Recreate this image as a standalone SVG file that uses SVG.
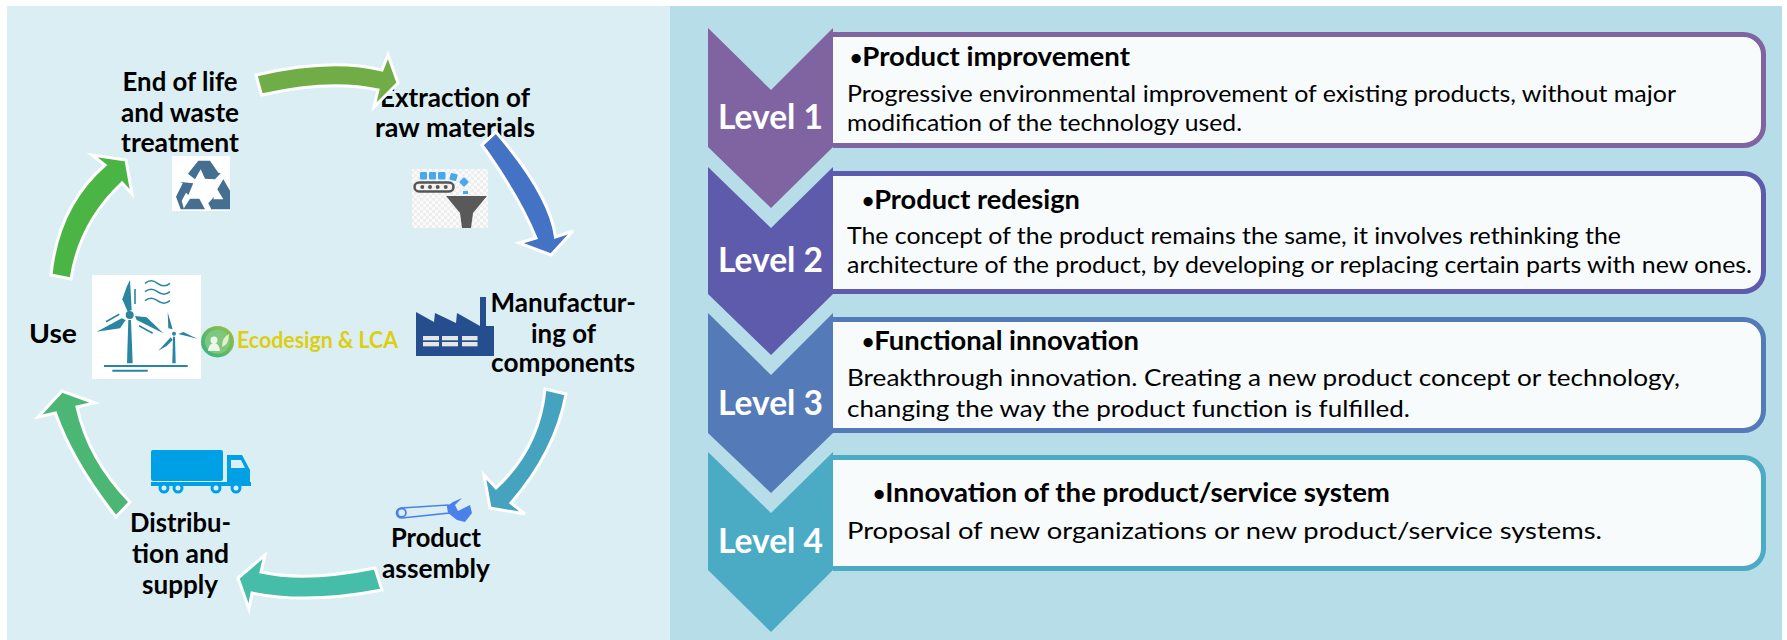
<svg xmlns="http://www.w3.org/2000/svg" width="1787" height="640" viewBox="0 0 1787 640">
<style>
text{font-family:Lato,"Liberation Sans",sans-serif;fill:#000}
.lb{font-weight:700;font-size:26px}
.t{font-weight:700;font-size:26px}
.bu{font-size:20px}
.b{font-size:24px}
.lv{font-weight:700;font-size:35px;fill:#fff}
.box{fill:#f7fbfc;stroke-width:5}
.arr{stroke:#fff;stroke-width:3}
</style>
<defs>
<pattern id="chk" width="6" height="6" patternUnits="userSpaceOnUse"><rect width="6" height="6" fill="#fafafa"/><rect width="3" height="3" fill="#eeeeee"/><rect x="3" y="3" width="3" height="3" fill="#eeeeee"/></pattern>
<linearGradient id="eco" x1="0" y1="1" x2="1" y2="0"><stop offset="0" stop-color="#2fb38c"/><stop offset="1" stop-color="#9cc03c"/></linearGradient>
</defs>
<rect x="7" y="6" width="663" height="634" fill="#dbeef4"/>
<rect x="670" y="6" width="1112" height="634" fill="#b7dde8"/>

<g id="node-end-of-life">
<text class="lb" x="122.6" y="91" textLength="115" lengthAdjust="spacingAndGlyphs">End of life</text>
<text class="lb" x="121" y="122" textLength="118" lengthAdjust="spacingAndGlyphs">and waste</text>
<text class="lb" x="121" y="152" textLength="118" lengthAdjust="spacingAndGlyphs">treatment</text>
<rect x="172" y="156" width="58" height="55" fill="#fff"/>
<g fill="#446f91">
<polygon points="188.3,173.3 198.3,160.7 210,160.7 218.3,172.7 220.7,173.3 215,179.3 205,178.7 200.7,169.3 195,179.3 188.3,174"/>
<polygon points="176,196.7 182.7,183.3 180.7,182 193.3,183.3 188.3,195 186,192.7 181.7,200.7 184,209.3 180.7,209.3"/>
<polygon points="183.3,209.3 190,198.7 199.3,198.7 205,209.3"/>
<polygon points="208.3,203.3 214,196.7 213.3,199.3 223.3,199.3 217.3,189.3 223.3,179.3 230,190.7 230,209.3 211.7,209.3 211.7,210"/>
</g>
</g>

<g id="node-extraction">
<text class="lb" x="380" y="107" textLength="150" lengthAdjust="spacingAndGlyphs">Extraction of</text>
<text class="lb" x="375" y="137" textLength="160" lengthAdjust="spacingAndGlyphs">raw materials</text>
<rect x="412" y="169" width="76" height="59" fill="url(#chk)"/>
<g fill="#45a9ee">
<rect x="420" y="172" width="7" height="7.500" rx="1"/><rect x="429" y="172" width="7" height="7.500" rx="1"/><rect x="438" y="172" width="7.500" height="7.500" rx="1"/>
<rect x="450" y="173.500" width="7" height="7" rx="1" transform="rotate(15 453.500 177)"/>
<rect x="460.500" y="178.500" width="7" height="7" rx="1" transform="rotate(45 464 182)"/>
<rect x="463" y="191" width="5" height="3"/>
</g>
<rect x="414.500" y="182.500" width="39" height="9" rx="4.500" fill="none" stroke="#555" stroke-width="2.500"/>
<g fill="#555"><circle cx="422.300" cy="187" r="2"/><circle cx="430" cy="187" r="2"/><circle cx="437.700" cy="187" r="2"/><circle cx="445.700" cy="187" r="2"/></g>
<polygon points="446,196 487,196 473,213 471,228 462,228 460,213" fill="#595959"/>
</g>

<g id="node-manufacturing">
<text class="lb" x="490.600" y="312" textLength="145.400" lengthAdjust="spacingAndGlyphs">Manufactur-</text>
<text class="lb" x="531" y="343" textLength="65" lengthAdjust="spacingAndGlyphs">ing of</text>
<text class="lb" x="491" y="372" textLength="144" lengthAdjust="spacingAndGlyphs">components</text>
<polygon points="416,312 434,322 435,313 456,323 457,313 480,326 480,297 486,297 486,326 494,326 494,356 416,356" fill="#254e8e"/>
<g fill="#e6e6e6"><rect x="423" y="336" width="16" height="4.300"/><rect x="423" y="342" width="16" height="4.300"/><rect x="442" y="336" width="16" height="4.300"/><rect x="442" y="342" width="16" height="4.300"/><rect x="462" y="336" width="15.500" height="4.300"/><rect x="462" y="342" width="15.500" height="4.300"/></g>
</g>

<g id="node-assembly">
<text class="lb" x="391" y="547" textLength="90" lengthAdjust="spacingAndGlyphs">Product</text>
<text class="lb" x="382" y="578" textLength="108" lengthAdjust="spacingAndGlyphs">assembly</text>
<path d="M401,508 L448,505 L449,513 L402,518 A5,5 0 0 1 401,508 Z" fill="#dbeef4" stroke="#4a80ec" stroke-width="1.600"/>
<circle cx="401.700" cy="512.700" r="4.200" fill="#dbeef4" stroke="#4a80ec" stroke-width="1.800"/>
<polygon points="447,506 453,502 462,498 455,505 458,511 470,505 472,513 465,522 457,520 448,513" fill="#4a80ec"/>
</g>

<g id="node-distribution">
<text class="lb" x="130" y="532" textLength="101" lengthAdjust="spacingAndGlyphs">Distribu-</text>
<text class="lb" x="132" y="563" textLength="97" lengthAdjust="spacingAndGlyphs">tion and</text>
<text class="lb" x="142" y="594" textLength="76" lengthAdjust="spacingAndGlyphs">supply</text>
<g fill="#00a0e6">
<rect x="151" y="450" width="72" height="31" rx="2"/>
<polygon points="227,455 242,455 250,470 250,482 227,482"/>
<rect x="151" y="482" width="100" height="4"/>
</g>
<polygon points="231,460 241,460 245,468 231,468" fill="#dbeef4"/>
<g fill="#dbeef4" stroke="#00a0e6" stroke-width="3"><circle cx="164" cy="488" r="4"/><circle cx="178" cy="488" r="4"/><circle cx="216" cy="488" r="4"/><circle cx="236" cy="488" r="4"/></g>
</g>

<g id="node-use">
<text class="lb" x="29" y="343" textLength="48" lengthAdjust="spacingAndGlyphs">Use</text>
<rect x="92" y="275" width="109" height="104" fill="#fff"/>
<g fill="#2a85a0">
<circle cx="129.700" cy="315" r="4"/>
<polygon points="128.300,320 131,320 132.700,363.300 127,363.300"/>
<polygon points="130,280 131.700,310 127.700,311.700 122.300,299.300 126.700,286.700"/>
<polygon points="96.700,331.700 121.700,318.300 125.700,320 120,328.300"/>
<polygon points="135,316 146.700,317.300 163.300,333.300 136.700,320"/>
<circle cx="174" cy="333.700" r="2"/>
<polygon points="173,336.700 175,336.700 175.700,363.300 172.300,363.300"/>
<polygon points="167.700,312.300 172.700,329.300 168.300,328.300"/>
<polygon points="178.300,334 183.300,332 197.300,338.700"/>
<polygon points="158.300,350.700 170.700,337.300 172.700,340 166.700,346"/>
</g>
<g fill="none" stroke="#2a85a0">
<path d="M135,289V304M106,321.700L119.300,314.300M139,325.700L152.700,333.300" stroke-width="1.600"/>
<path d="M145,283.300q6,-5 12.500,0t12.500,0M145,291.700q6,-5 12.500,0t12.500,0M145,300.700q6,-5 12.500,0t12.500,0" stroke-width="1.600"/>
<path d="M104,366H187.700M112.300,370.700H147.700" stroke-width="2"/>
</g>
</g>

<g id="node-ecodesign">
<ellipse cx="217.500" cy="341.700" rx="16.500" ry="15.700" fill="url(#eco)"/>
<ellipse cx="217.500" cy="341.700" rx="12.500" ry="12" fill="#7fc77f"/>
<circle cx="214" cy="340" r="3.500" fill="#fff" opacity=".85"/><path d="M208,351q1,-8 6,-8t6,8Z" fill="#fff" opacity=".85"/>
<path d="M222,347q0,-10 7,-13q0,11 -7,13Z" fill="#e4f0c8"/>
<text x="237" y="348" font-size="23" font-weight="700" style="fill:#dccf10" textLength="161" lengthAdjust="spacingAndGlyphs">Ecodesign &amp; LCA</text>
</g>

<g id="connectors">
<path class="arr" fill="#70ad47" d="M256,75Q331,57.500 382,70L388,55L398,83L374,107L378,90Q330,79.500 261.500,95Z"/>
<path class="arr" fill="#4472c4" d="M496,132Q550,195 555.500,237L573,231L551,255L519,243L536,238Q519,196.500 482,145Z"/>
<path class="arr" fill="#46a3c0" d="M566,394Q555.500,451.500 511,503L525,514L490,508L484,475L496,488Q539.500,447.500 545,389Z"/>
<path class="arr" fill="#45bda8" d="M375,568Q306,582 261,572L265,555L238,578L249,609L252,593Q307,604.500 382,590Z"/>
<path class="arr" fill="#4cb774" d="M116,517Q72,461 55.500,413L38,417L62,391L95,403L77,407Q88.500,459.500 130,502Z"/>
<path class="arr" fill="#4ab545" d="M51,275Q58,206 105,165L92,155L126,160L132,194L122,183Q79.500,223 71,279Z"/>
</g>

<g id="level-4">
<polygon points="708,452 771,513 833,452 833,570 771,632 708,570" fill="#4babc5"/>
<path class="box" stroke="#4babc5" d="M833,457.500H1743.500a20,20 0 0 1 20,20V548.500a20,20 0 0 1 -20,20H833"/>
<text class="lv" x="718" y="553" textLength="105" lengthAdjust="spacingAndGlyphs">Level 4</text>
<text class="t" x="873" y="502" textLength="517" lengthAdjust="spacingAndGlyphs"><tspan class="bu" dy="-1">•</tspan><tspan dy="1">Innovation of the product/service system</tspan></text>
<text class="b" x="847" y="539" textLength="755" lengthAdjust="spacingAndGlyphs">Proposal of new organizations or new product/service systems.</text>
</g>
<g id="level-3">
<polygon points="708,313 771,375 833,313 833,433 771,493 708,433" fill="#547ab8"/>
<path class="box" stroke="#547ab8" d="M833,319.500H1743.500a20,20 0 0 1 20,20V410.500a20,20 0 0 1 -20,20H833"/>
<text class="lv" x="718" y="415" textLength="105" lengthAdjust="spacingAndGlyphs">Level 3</text>
<text class="t" x="862" y="350" textLength="277" lengthAdjust="spacingAndGlyphs"><tspan class="bu" dy="-1">•</tspan><tspan dy="1">Functional innovation</tspan></text>
<text class="b" x="847" y="386" textLength="833" lengthAdjust="spacingAndGlyphs">Breakthrough innovation. Creating a new product concept or technology,</text>
<text class="b" x="847" y="417" textLength="563" lengthAdjust="spacingAndGlyphs">changing the way the product function is fulfilled.</text>
</g>
<g id="level-2">
<polygon points="708,167 771,228 833,167 833,294 771,355 708,294" fill="#5f5bac"/>
<path class="box" stroke="#5f5bac" d="M833,173.500H1743.500a20,20 0 0 1 20,20V271.500a20,20 0 0 1 -20,20H833"/>
<text class="lv" x="718" y="272" textLength="105" lengthAdjust="spacingAndGlyphs">Level 2</text>
<text class="t" x="862" y="209" textLength="218" lengthAdjust="spacingAndGlyphs"><tspan class="bu" dy="-1">•</tspan><tspan dy="1">Product redesign</tspan></text>
<text class="b" x="847" y="244" textLength="774" lengthAdjust="spacingAndGlyphs">The concept of the product remains the same, it involves rethinking the</text>
<text class="b" x="847" y="273" textLength="905" lengthAdjust="spacingAndGlyphs">architecture of the product, by developing or replacing certain parts with new ones.</text>
</g>
<g id="level-1">
<polygon points="708,28 771,90 833,28 833,147 771,208 708,147" fill="#8063a1"/>
<path class="box" stroke="#8063a1" d="M833,34.500H1743.500a20,20 0 0 1 20,20V125.500a20,20 0 0 1 -20,20H833"/>
<text class="lv" x="718" y="129" textLength="105" lengthAdjust="spacingAndGlyphs">Level 1</text>
<text class="t" x="850" y="66" textLength="280" lengthAdjust="spacingAndGlyphs"><tspan class="bu" dy="-1">•</tspan><tspan dy="1">Product improvement</tspan></text>
<text class="b" x="847" y="102" textLength="829" lengthAdjust="spacingAndGlyphs">Progressive environmental improvement of existing products, without major</text>
<text class="b" x="847" y="131" textLength="395" lengthAdjust="spacingAndGlyphs">modification of the technology used.</text>
</g>
</svg>
